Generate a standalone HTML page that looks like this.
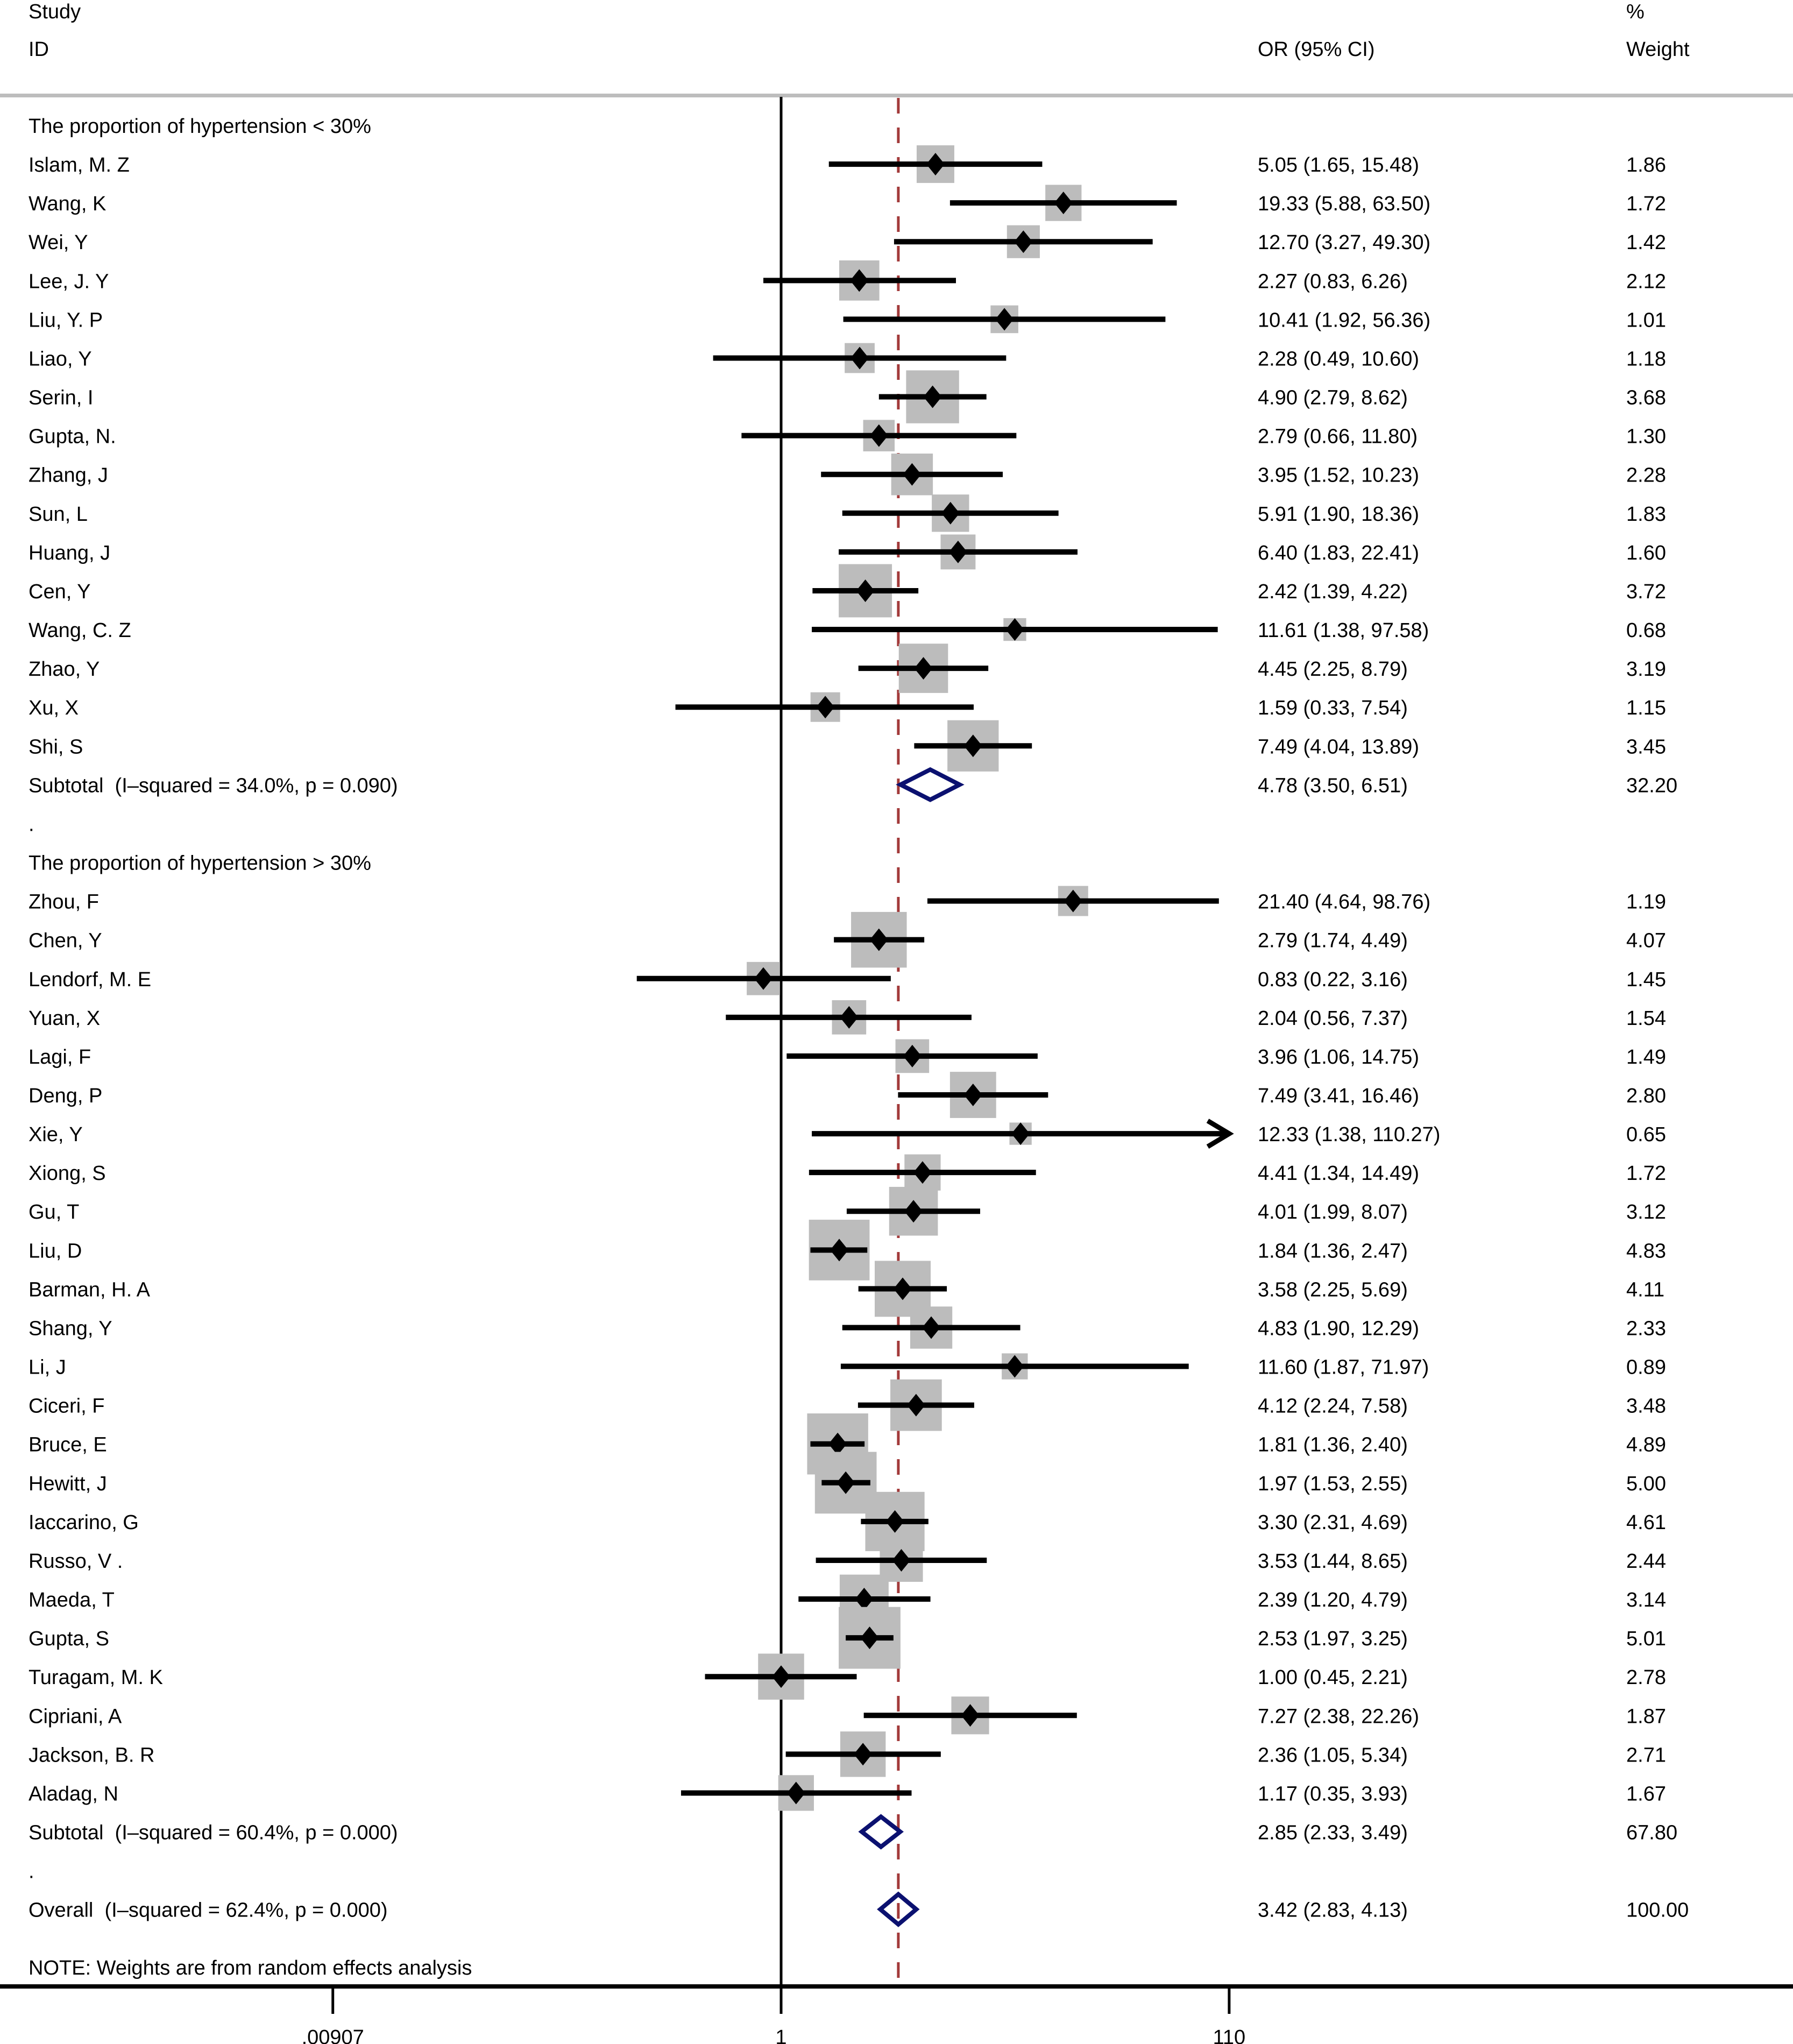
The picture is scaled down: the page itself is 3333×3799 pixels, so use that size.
<!DOCTYPE html>
<html><head><meta charset="utf-8"><style>
html,body{margin:0;padding:0;background:#fff;}
svg{display:block;}
text{font-family:"Liberation Sans",sans-serif;font-size:38px;fill:#000;}
</style></head><body>
<svg id="chart" width="3333" height="3799" viewBox="0 0 3333 3799" xmlns="http://www.w3.org/2000/svg">
<text x="53" y="34">Study</text>
<text x="53" y="104">ID</text>
<text x="2338" y="104">OR (95% CI)</text>
<text x="3023" y="34">%</text>
<text x="3023" y="104">Weight</text>
<rect x="0" y="174" width="3333" height="7" fill="#bdbdbd"/>
<g id="plot"></g>
</svg>
<script>
const names1 = ["Islam, M. Z","Wang, K","Wei, Y","Lee, J. Y","Liu, Y. P","Liao, Y","Serin, I","Gupta, N.","Zhang, J","Sun, L","Huang, J","Cen, Y","Wang, C. Z","Zhao, Y","Xu, X","Shi, S"];
const or1 = [5.05,19.33,12.70,2.27,10.41,2.28,4.90,2.79,3.95,5.91,6.40,2.42,11.61,4.45,1.59,7.49];
const lo1 = [1.65,5.88,3.27,0.83,1.92,0.49,2.79,0.66,1.52,1.90,1.83,1.39,1.38,2.25,0.33,4.04];
const hi1 = [15.48,63.50,49.30,6.26,56.36,10.60,8.62,11.80,10.23,18.36,22.41,4.22,97.58,8.79,7.54,13.89];
const w1 = [1.86,1.72,1.42,2.12,1.01,1.18,3.68,1.30,2.28,1.83,1.60,3.72,0.68,3.19,1.15,3.45];
const names2 = ["Zhou, F","Chen, Y","Lendorf, M. E","Yuan, X","Lagi, F","Deng, P","Xie, Y","Xiong, S","Gu, T","Liu, D","Barman, H. A","Shang, Y","Li, J","Ciceri, F","Bruce, E","Hewitt, J","Iaccarino, G","Russo, V .","Maeda, T","Gupta, S","Turagam, M. K","Cipriani, A","Jackson, B. R","Aladag, N"];
const or2 = [21.40,2.79,0.83,2.04,3.96,7.49,12.33,4.41,4.01,1.84,3.58,4.83,11.60,4.12,1.81,1.97,3.30,3.53,2.39,2.53,1.00,7.27,2.36,1.17];
const lo2 = [4.64,1.74,0.22,0.56,1.06,3.41,1.38,1.34,1.99,1.36,2.25,1.90,1.87,2.24,1.36,1.53,2.31,1.44,1.20,1.97,0.45,2.38,1.05,0.35];
const hi2 = [98.76,4.49,3.16,7.37,14.75,16.46,110.27,14.49,8.07,2.47,5.69,12.29,71.97,7.58,2.40,2.55,4.69,8.65,4.79,3.25,2.21,22.26,5.34,3.93];
const w2 = [1.19,4.07,1.45,1.54,1.49,2.80,0.65,1.72,3.12,4.83,4.11,2.33,0.89,3.48,4.89,5.00,4.61,2.44,3.14,5.01,2.78,1.87,2.71,1.67];
const subLabels = ["Subtotal\u00a0 (I\u2013squared = 34.0%, p = 0.090)","Subtotal\u00a0 (I\u2013squared = 60.4%, p = 0.000)","Overall\u00a0 (I\u2013squared = 62.4%, p = 0.000)"];
const subOR = [4.78,2.85,3.42];
const subLo = [3.50,2.33,2.83];
const subHi = [6.51,3.49,4.13];
const subW = ["32.20","67.80","100.00"];
const tickVals = [0.00907,1,110];
const tickLabels = [".00907","1","110"];

const NS="http://www.w3.org/2000/svg";
const g=document.getElementById('plot');
const X0=1452, PPD=408, XMAX=2285;
const xs=v=>X0+PPD*Math.log10(v);
const rowY=i=>233+i*72.08;
function el(t,a){const e=document.createElementNS(NS,t);for(const k in a)e.setAttribute(k,a[k]);g.appendChild(e);return e;}
function txt(x,y,s,anchor){const e=el('text',{x:x,y:y+14});if(anchor)e.setAttribute('text-anchor',anchor);e.textContent=s;return e;}
const f=v=>v.toFixed(2);

let nl=el('line',{x1:X0,y1:180,x2:X0,y2:3692,stroke:'#000','stroke-width':5});


let od=el('line',{x1:xs(subOR[2]),y1:182,x2:xs(subOR[2]),y2:3692,stroke:'#a23a3a','stroke-width':5,'stroke-dasharray':'29 26'});



function study(row,name,o,l,h,w,idx){
  const y=rowY(row);
  const side=51.3*Math.sqrt(w);
  let b=el('rect',{x:xs(o)-side/2,y:y-side/2,width:side,height:side,fill:'#bcbcbc'});
  
  
  const hx=Math.min(xs(h),XMAX);
  let c=el('line',{x1:xs(l),y1:y,x2:hx,y2:y,stroke:'#000','stroke-width':10});
  
  
  if(xs(h)>XMAX){
    let a=el('polyline',{points:(hx-40)+','+(y-24)+' '+hx+','+y+' '+(hx-40)+','+(y+24),fill:'none',stroke:'#000','stroke-width':9});
    
    
  }
  let d=el('polygon',{points:xs(o)+','+(y-21)+' '+(xs(o)+17)+','+y+' '+xs(o)+','+(y+21)+' '+(xs(o)-17)+','+y,fill:'#000'});
  
  
  let t1=txt(53,y,name);
  
  
  let t2=txt(2338,y,f(o)+' ('+f(l)+', '+f(h)+')');
  
  
  let t3=txt(3023,y,f(w));
  
  
}
function pooled(row,k){
  const y=rowY(row);
  let d=el('polygon',{points:xs(subLo[k])+','+y+' '+xs(subOR[k])+','+(y-28)+' '+xs(subHi[k])+','+y+' '+xs(subOR[k])+','+(y+28),fill:'none',stroke:'#0b1170','stroke-width':8});
  
  
  let t1=txt(53,y,subLabels[k]);
  
  
  let t2=txt(2338,y,f(subOR[k])+' ('+f(subLo[k])+', '+f(subHi[k])+')');
  
  
  let t3=txt(3023,y,subW[k]);
  
  
}
let h1=txt(53,rowY(0),'The proportion of hypertension < 30%');


names1.forEach((n,i)=>study(1+i,n,or1[i],lo1[i],hi1[i],w1[i],'g1-'+i));
pooled(17,0);
let dot1=txt(53,rowY(18),'.');


let h2=txt(53,rowY(19),'The proportion of hypertension > 30%');


names2.forEach((n,i)=>study(20+i,n,or2[i],lo2[i],hi2[i],w2[i],'g2-'+i));
pooled(44,1);
let dot2=txt(53,rowY(45),'.');


pooled(46,2);
let note=txt(53,3656,'NOTE: Weights are from random effects analysis');


let ax=el('rect',{x:0,y:3688,width:3333,height:8,fill:'#000'});


tickVals.forEach((v,i)=>{
  let t=el('line',{x1:xs(v),y1:3692,x2:xs(v),y2:3743,stroke:'#000','stroke-width':5});
  
  
  let l=el('text',{x:xs(v),y:3799,'text-anchor':'middle'});
  l.textContent=tickLabels[i];
  
  
});
</script>
</body></html>
